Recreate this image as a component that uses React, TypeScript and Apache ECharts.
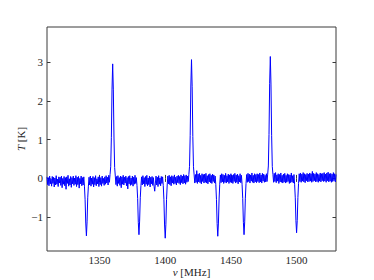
import React, { useEffect, useRef } from "react";
import * as echarts from "echarts";

const FREQ_START = 1310;
const FREQ_STEP = 0.5;
const temps: number[] = [
  // 1310–1319.5
  0.04, -0.16, 0.02, -0.19, 0.06, -0.14, -0.01, -0.2, 0.05, -0.13, 0.03, -0.22, 0.01, -0.17, 0.07, -0.15, -0.02, -0.21, 0.04, -0.12,
  // 1320–1329.5
  0.03, -0.18, 0.06, -0.24, 0.0, -0.15, 0.05, -0.19, 0.02, -0.28, 0.04, -0.13, 0.08, -0.2, -0.01, -0.17, 0.05, -0.23, 0.02, -0.14,
  // 1330–1339.5
  0.06, -0.18, 0.01, -0.15, 0.07, -0.21, 0.03, -0.16, 0.05, -0.25, 0.0, -0.14, 0.06, -0.19, 0.02, -0.17, 0.04, -0.2, -0.55, -1.15,
  // 1340–1349.5
  -1.48, -1.12, -0.5, -0.2, 0.03, -0.17, 0.06, -0.2, 0.01, -0.15, 0.05, -0.22, 0.02, -0.16, 0.07, -0.19, -0.01, -0.14, 0.04, -0.21,
  // 1350–1359.5
  0.05, -0.16, 0.02, -0.2, 0.06, -0.13, 0.0, -0.18, 0.04, -0.15, 0.07, -0.12, 0.03, -0.17, 0.08, -0.1, 0.1, 0.3, 1.06, 2.3,
  // 1360–1369.5
  2.95, 2.28, 1.04, 0.28, 0.06, -0.16, 0.05, -0.2, 0.07, -0.13, 0.02, -0.18, 0.06, -0.24, 0.04, -0.15, 0.08, -0.17, 0.03, -0.12,
  // 1370–1379.5
  0.06, -0.19, 0.02, -0.27, 0.05, -0.14, 0.07, -0.18, 0.01, -0.16, 0.06, -0.2, 0.03, -0.15, 0.08, -0.13, 0.02, -0.18, -0.52, -1.13,
  // 1380–1389.5
  -1.45, -1.1, -0.5, -0.19, 0.04, -0.17, 0.07, -0.14, 0.02, -0.21, 0.05, -0.15, 0.08, -0.19, 0.01, -0.16, 0.06, -0.22, 0.03, -0.14,
  // 1390–1399.5
  0.05, -0.18, 0.02, -0.2, -0.33, -0.12, 0.06, -0.17, 0.03, -0.21, 0.07, -0.15, 0.01, -0.19, 0.05, -0.13, 0.04, -0.18, -0.55, -1.2,
  // 1400–1409.5
  -1.54, -1.18, -0.54, -0.17, 0.06, -0.14, 0.08, -0.16, 0.04, -0.19, 0.07, -0.12, 0.05, -0.15, 0.09, -0.13, 0.03, -0.17, 0.06, -0.11,
  // 1410–1419.5
  0.08, -0.13, 0.05, -0.16, 0.09, -0.11, 0.06, -0.14, 0.1, -0.12, 0.07, -0.15, 0.09, -0.1, 0.06, -0.08, 0.1, 0.31, 1.1, 2.38,
  // 1420–1429.5
  3.06, 2.36, 1.08, 0.3, 0.09, -0.12, 0.1, -0.1, 0.2, -0.13, 0.11, -0.09, 0.13, -0.11, 0.08, -0.14, 0.12, -0.08, 0.1, -0.12,
  // 1430–1439.5
  0.11, -0.1, 0.13, -0.12, 0.07, -0.14, 0.1, -0.09, 0.12, -0.11, 0.08, -0.13, 0.11, -0.08, 0.09, -0.12, 0.06, -0.16, -0.54, -1.16,
  // 1440–1449.5
  -1.49, -1.15, -0.53, -0.15, 0.09, -0.11, 0.12, -0.09, 0.1, -0.13, 0.08, -0.1, 0.13, -0.12, 0.07, -0.09, 0.11, -0.13, 0.09, -0.1,
  // 1450–1459.5
  0.12, -0.11, 0.08, -0.13, 0.1, -0.08, 0.13, -0.12, 0.09, -0.1, 0.11, -0.14, 0.07, -0.09, 0.12, -0.11, 0.08, -0.15, -0.52, -1.13,
  // 1460–1469.5
  -1.45, -1.12, -0.51, -0.13, 0.1, -0.1, 0.13, -0.08, 0.11, -0.12, 0.09, -0.07, 0.14, -0.1, 0.08, -0.12, 0.12, -0.09, 0.1, -0.11,
  // 1470–1479.5
  0.12, -0.08, 0.1, -0.11, 0.14, -0.09, 0.09, -0.12, 0.13, -0.07, 0.11, -0.1, 0.08, -0.09, 0.12, -0.08, 0.11, 0.32, 1.13, 2.45,
  // 1480–1489.5
  3.14, 2.43, 1.11, 0.31, 0.1, -0.1, 0.13, -0.08, 0.15, -0.11, 0.09, -0.07, 0.12, -0.13, 0.1, -0.09, 0.14, -0.1, 0.08, -0.12,
  // 1490–1499.5
  0.11, -0.09, 0.13, -0.12, 0.08, -0.1, 0.12, -0.08, 0.1, -0.13, 0.09, -0.11, 0.14, -0.09, 0.07, -0.12, 0.1, -0.15, -0.5, -1.09,
  // 1500–1509.5
  -1.4, -1.08, -0.49, -0.13, 0.12, -0.08, 0.14, -0.1, 0.11, -0.07, 0.15, -0.09, 0.12, -0.11, 0.1, -0.06, 0.13, -0.09, 0.11, -0.08,
  // 1510–1519.5
  0.14, -0.07, 0.12, -0.1, 0.18, -0.08, 0.13, -0.06, 0.11, -0.09, 0.15, -0.08, 0.12, -0.1, 0.1, -0.07, 0.14, -0.09, 0.12, -0.06,
  // 1520–1529.5
  0.13, -0.08, 0.15, -0.07, 0.11, -0.1, 0.14, -0.06, 0.16, -0.09, 0.12, -0.07, 0.13, -0.1, 0.11, -0.08, 0.15, -0.06, 0.12, -0.09,
  // 1530
  0.1,
];

const xTicks = [1350, 1400, 1450, 1500];
const yTicks = [-1, 0, 1, 2, 3];
const X_MIN = 1310;
const X_MAX = 1530;
const Y_MIN = -1.87;
const Y_MAX = 3.9;

const FONT = "Liberation Serif";
const TEXT_COLOR = "#262626";
const FRAME = "#3a3a3a";

export default function App() {
  const ref = useRef<HTMLDivElement>(null);

  useEffect(() => {
    if (!ref.current) return;
    const chart = echarts.init(ref.current, undefined, { renderer: "svg" });
    const data = temps.map((t, i) => [FREQ_START + FREQ_STEP * i, t]);

    const tickCommon = {
      show: true,
      inside: true,
      length: 3.5,
      lineStyle: { color: FRAME, width: 1 },
    };

    chart.setOption({
      animation: false,
      backgroundColor: "#ffffff",
      grid: {
        left: 47,
        right: 38,
        top: 27,
        bottom: 29,
        show: true,
        borderColor: FRAME,
        borderWidth: 1,
        backgroundColor: "transparent",
        containLabel: false,
        outerBoundsMode: "none",
      },
      xAxis: [
        {
          type: "value",
          min: X_MIN,
          max: X_MAX,
          position: "bottom",
          axisLine: { show: false },
          splitLine: { show: false },
          axisTick: { ...tickCommon, customValues: xTicks },
          axisLabel: {
            customValues: xTicks,
            margin: 3,
            fontFamily: FONT,
            fontSize: 11,
            color: TEXT_COLOR,
            formatter: (v: number) => String(v),
          },
          name: "{i|ν} [MHz]",
          nameLocation: "middle",
          nameGap: 15,
          nameMoveOverlap: false,
          nameTextStyle: {
            fontFamily: FONT,
            fontSize: 11,
            color: TEXT_COLOR,
            rich: {
              i: { fontFamily: FONT, fontSize: 11, fontStyle: "italic", color: TEXT_COLOR },
            },
          },
        },
        {
          type: "value",
          min: X_MIN,
          max: X_MAX,
          position: "top",
          axisLine: { show: false },
          splitLine: { show: false },
          axisTick: { ...tickCommon, customValues: xTicks },
          axisLabel: { show: false, customValues: xTicks },
        },
      ],
      yAxis: [
        {
          type: "value",
          min: Y_MIN,
          max: Y_MAX,
          position: "left",
          axisLine: { show: false },
          splitLine: { show: false },
          axisTick: { ...tickCommon, customValues: yTicks },
          axisLabel: {
            customValues: yTicks,
            margin: 4,
            fontFamily: FONT,
            fontSize: 11,
            color: TEXT_COLOR,
            formatter: (v: number) => (v < 0 ? "\u2212" + Math.abs(v) : String(v)),
          },
          name: "{i|T} [K]",
          nameLocation: "middle",
          nameGap: 21,
          nameRotate: 90,
          nameMoveOverlap: false,
          nameTextStyle: {
            fontFamily: FONT,
            fontSize: 11,
            color: TEXT_COLOR,
            rich: {
              i: { fontFamily: FONT, fontSize: 11, fontStyle: "italic", color: TEXT_COLOR },
            },
          },
        },
        {
          type: "value",
          min: Y_MIN,
          max: Y_MAX,
          position: "right",
          axisLine: { show: false },
          splitLine: { show: false },
          axisTick: { ...tickCommon, customValues: yTicks },
          axisLabel: { show: false, customValues: yTicks },
        },
      ],
      series: [
        {
          type: "line",
          data,
          xAxisIndex: 0,
          yAxisIndex: 0,
          showSymbol: false,
          symbol: "none",
          lineStyle: { color: "#0000ff", width: 1 },
          clip: true,
        },
      ],
    });

    return () => chart.dispose();
  }, []);

  return (
    <div
      ref={ref}
      style={{ position: "fixed", left: 0, top: 0, width: 374, height: 280, background: "#fff" }}
    />
  );
}
